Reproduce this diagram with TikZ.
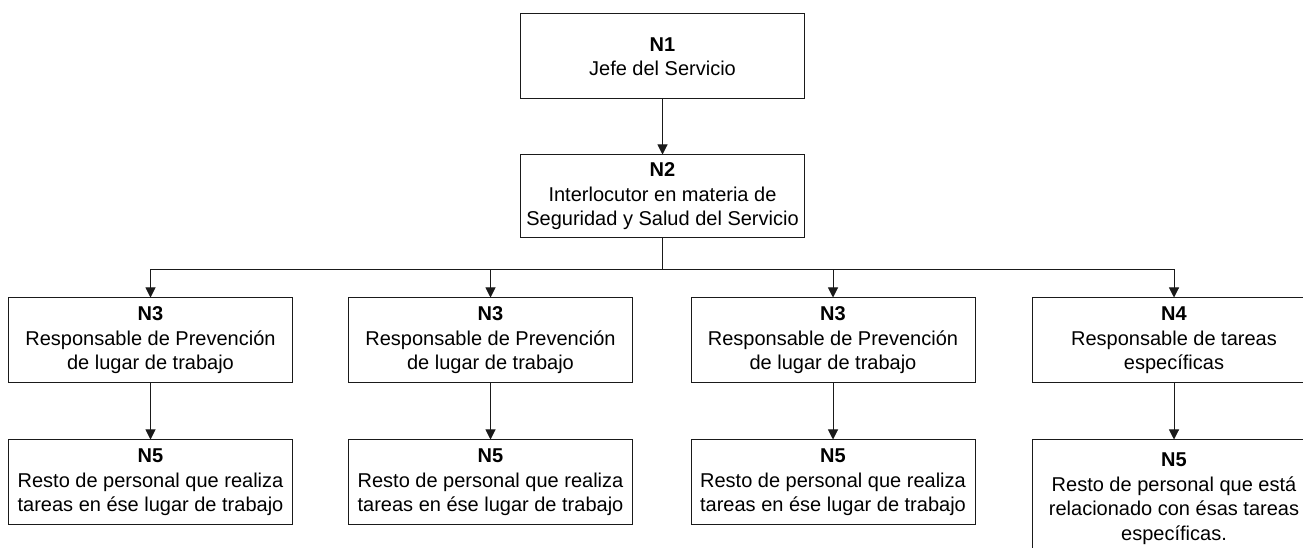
\documentclass[tikz,border=0pt]{standalone}
\usepackage{fontspec}
\setmainfont{Liberation Sans}
\usetikzlibrary{arrows.meta}

\begin{document}
\begin{tikzpicture}[x=1pt,y=1pt,
  box/.style={draw=drawColor,line width=1pt,align=center,inner sep=0pt,
    minimum width=284,minimum height=85,font=\fontsize{20}{24.5}\selectfont},
  link/.style={draw=drawColor,line width=1pt,-{Triangle[length=10pt,width=10pt]}}]
\definecolor{drawColor}{RGB}{26,26,26}
\definecolor{fillColor}{RGB}{255,255,255}
\path[use as bounding box,fill=fillColor] (0,0) rectangle (1303,548);

\node[box] (jefe) at (662.5,491.5) {\textbf{N1}\\Jefe del Servicio};

\node[box,minimum height=83] (inter) at (662.5,351.5) {\textbf{N2}\\Interlocutor en materia de\\Seguridad y Salud del Servicio};

\node[box] (respA) at (150.5,207.5) {\textbf{N3}\\Responsable de Prevención\\de lugar de trabajo};

\node[box] (respB) at (490.5,207.5) {\textbf{N3}\\Responsable de Prevención\\de lugar de trabajo};

\node[box] (respC) at (833.0,207.5) {\textbf{N3}\\Responsable de Prevención\\de lugar de trabajo};

\node[box] (respD) at (1174.0,207.5) {\textbf{N4}\\Responsable de tareas\\específicas};

\node[box] (restoA) at (150.5,65.5) {\textbf{N5}\\Resto de personal que realiza\\tareas en ése lugar de trabajo};

\node[box] (restoB) at (490.5,65.5) {\textbf{N5}\\Resto de personal que realiza\\tareas en ése lugar de trabajo};

\node[box] (restoC) at (833.0,65.5) {\textbf{N5}\\Resto de personal que realiza\\tareas en ése lugar de trabajo};

\node[box,minimum height=117] (restoD) at (1174.0,49.5) {\textbf{N5}\\Resto de personal que está\\relacionado con ésas tareas\\específicas.};

\coordinate (bus) at (662.5,278);

\draw[link] (jefe) -- (inter);

\draw[draw=drawColor,line width=1pt] (inter.south) -- (bus);

\draw[link] (bus) -| (respA.north);

\draw[link] (bus) -| (respB.north);

\draw[link] (bus) -| (respC.north);

\draw[link] (bus) -| (respD.north);

\draw[link] (respA) -- (restoA);

\draw[link] (respB) -- (restoB);

\draw[link] (respC) -- (restoC);

\draw[link] (respD) -- (restoD);
\end{tikzpicture}
\end{document}
